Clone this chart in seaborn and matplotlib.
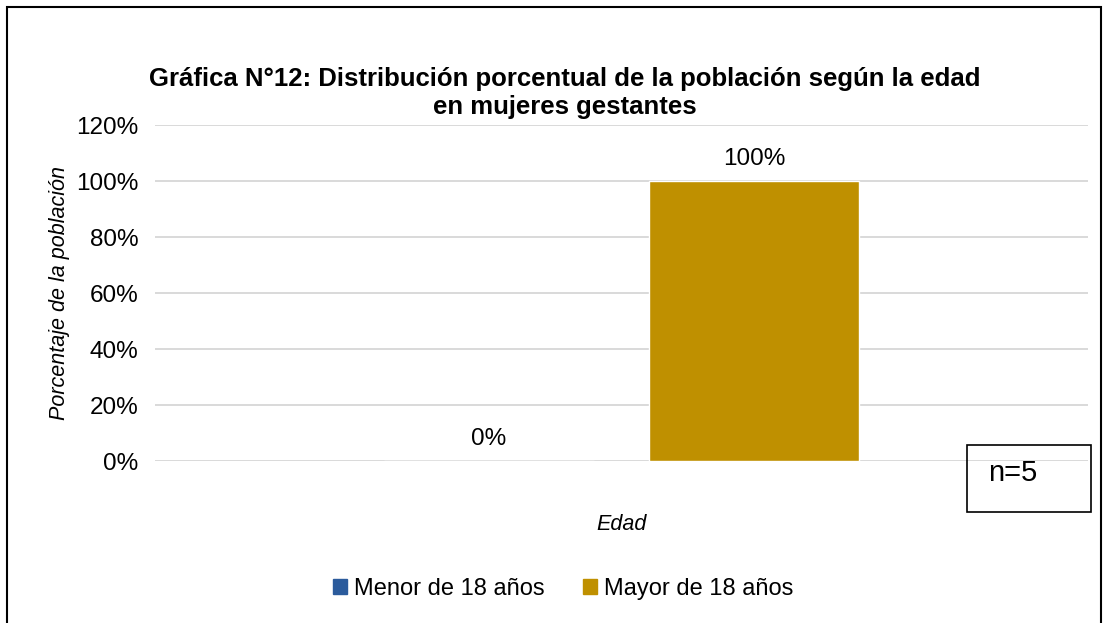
import matplotlib.pyplot as plt
import matplotlib.patches as mpatches
import pandas as pd
import seaborn as sns

# data
categoria = ["Edad"]
grupos = ["Menor de 18 años", "Mayor de 18 años"]
porcentajes = [0.0, 1.0]
colores = ["#2B5B9C", "#BF9000"]

sns.set_style("white")
plt.rcParams['font.family'] = ['Liberation Sans', 'DejaVu Sans']
plt.rcParams.update({"text.color": "black", "axes.labelcolor": "black",
                     "xtick.color": "black", "ytick.color": "black"})

df = pd.DataFrame({
    "categoria": categoria * len(grupos),
    "grupo": grupos,
    "valor": porcentajes,
})

fig = plt.figure(figsize=(11.09, 6.23), dpi=100)
ax = fig.add_axes([155 / 1109, 1 - 461 / 623, (1088 - 155) / 1109, (461 - 125) / 623])

sns.barplot(data=df, x="categoria", y="valor", hue="grupo", hue_order=grupos,
            palette=colores, width=0.57, gap=0.21, saturation=1, ax=ax, legend=False)

ax.set_ylim(0, 1.2)
ax.set_yticks([0, 0.2, 0.4, 0.6, 0.8, 1.0, 1.2])
ax.set_yticklabels([f"{int(round(v * 100))}%" for v in ax.get_yticks()], fontsize=17.5)
ax.yaxis.grid(True, color="#D9D9D9", linewidth=1.4)
ax.set_axisbelow(True)
for s in ax.spines.values():
    s.set_visible(False)
ax.tick_params(axis="y", length=0, pad=12)
ax.tick_params(axis="x", length=0)
ax.set_xticklabels([""])

# value labels
for cont in ax.containers:
    ax.bar_label(cont, labels=[f"{v * 100:.0f}%" for v in cont.datavalues],
                 fontsize=17.5, padding=8)

ax.set_xlabel("Edad", fontsize=15.5, style="italic", labelpad=35)
ax.set_ylabel("Porcentaje de la población", fontsize=15.5, style="italic", labelpad=4)

fig.text(565 / 1109, 1 - 93 / 623,
         "Gráfica N°12: Distribución porcentual de la población según la edad\nen mujeres gestantes",
         ha="center", va="center", fontsize=18.5, fontweight="bold", linespacing=1.25)

# legend
handles = [mpatches.Patch(color=c, label=g) for c, g in zip(colores, grupos)]
fig.legend(handles=handles, loc="center", bbox_to_anchor=(563 / 1109, 1 - 589 / 623),
           ncol=2, frameon=False, fontsize=17, handlelength=0.6, handleheight=0.6,
           handletextpad=0.3, columnspacing=1.6)

# n box
fig.patches.append(mpatches.Rectangle((967 / 1109, 1 - 512 / 623), 124 / 1109, 67 / 623,
                                      transform=fig.transFigure, fill=False,
                                      edgecolor="black", linewidth=1.2))
fig.text(988 / 1109, 1 - 473 / 623, "n=5", ha="left", va="center", fontsize=21)

# outer frame
fig.patches.append(mpatches.Rectangle((7 / 1109, -0.05), 1094 / 1109, 1.05 - 7 / 623,
                                      transform=fig.transFigure, fill=False,
                                      edgecolor="black", linewidth=1.5))

fig.savefig("out.png", dpi=100)
